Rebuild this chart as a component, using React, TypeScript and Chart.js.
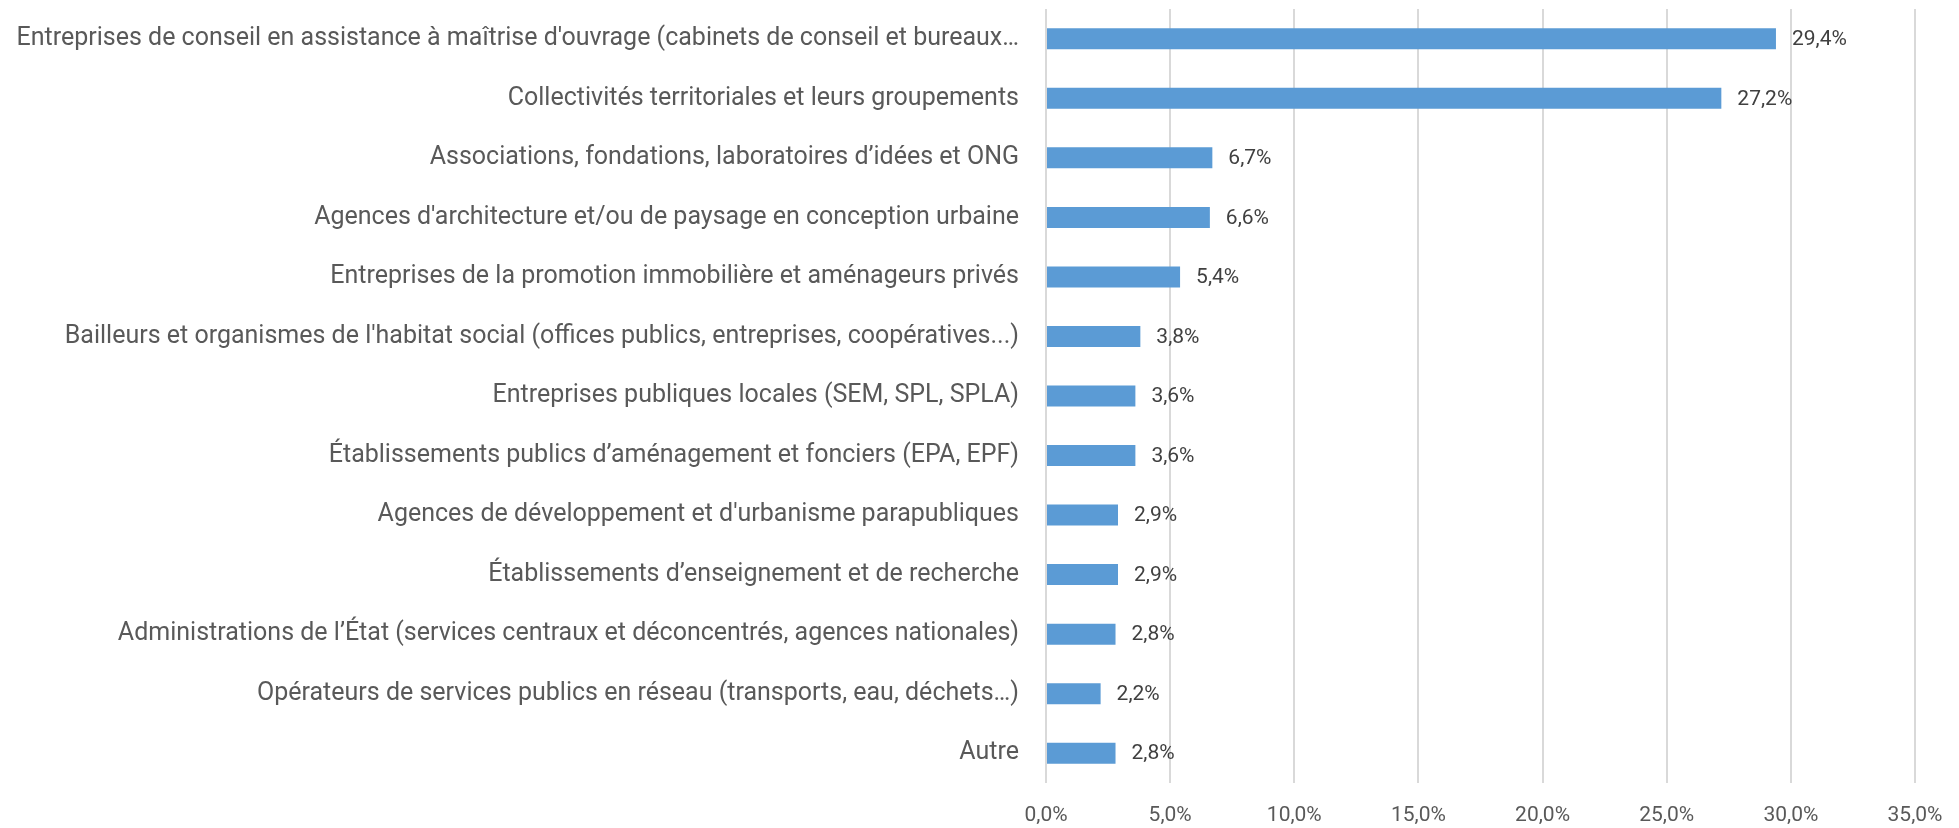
import React, { useEffect, useRef } from "react";
import { Chart, registerables } from "chart.js";

Chart.register(...registerables);

const categories: string[] = [
  "Entreprises de conseil en assistance à maîtrise d'ouvrage (cabinets de conseil et bureaux…",
  "Collectivités territoriales et leurs groupements",
  "Associations, fondations, laboratoires d’idées et ONG",
  "Agences d'architecture et/ou de paysage en conception urbaine",
  "Entreprises de la promotion immobilière et aménageurs privés",
  "Bailleurs et organismes de l'habitat social (offices publics, entreprises, coopératives...)",
  "Entreprises publiques locales (SEM, SPL, SPLA)",
  "Établissements publics d’aménagement et fonciers (EPA, EPF)",
  "Agences de développement et d'urbanisme parapubliques",
  "Établissements d’enseignement et de recherche",
  "Administrations de l’État (services centraux et déconcentrés, agences nationales)",
  "Opérateurs de services publics en réseau (transports, eau, déchets…)",
  "Autre",
];

const values: number[] = [29.4, 27.2, 6.7, 6.6, 5.4, 3.8, 3.6, 3.6, 2.9, 2.9, 2.8, 2.2, 2.8];

const xTickMin = 0;
const xTickMax = 35;
const xTickStep = 5;

const fmt = (v: number) => v.toFixed(1).replace(".", ",") + "%";

const valueLabels = {
  id: "valueLabels",
  afterDatasetsDraw(chart: any) {
    const ctx = chart.ctx;
    const meta = chart.getDatasetMeta(0);
    ctx.save();
    ctx.font = "21px Roboto";
    ctx.fillStyle = "#404040";
    ctx.textAlign = "left";
    ctx.textBaseline = "middle";
    meta.data.forEach((bar: any, i: number) => {
      ctx.fillText(fmt(values[i]), bar.x + 16, bar.y + 1);
    });
    ctx.restore();
  },
};

export default function App() {
  const ref = useRef<HTMLCanvasElement | null>(null);
  useEffect(() => {
    if (!ref.current) return;
    const chart = new Chart(ref.current, {
      type: "bar",
      data: {
        labels: categories,
        datasets: [
          {
            data: values,
            backgroundColor: "#5b9bd5",
            borderWidth: 0,
            barPercentage: 0.353,
            categoryPercentage: 1,
          },
        ],
      },
      options: {
        indexAxis: "y",
        animation: false,
        responsive: false,
        maintainAspectRatio: false,
        layout: { padding: { top: 9, right: 44, bottom: 0, left: 0 } },
        plugins: {
          legend: { display: false },
          tooltip: { enabled: false },
        },
        scales: {
          x: {
            min: xTickMin,
            max: xTickMax,
            ticks: {
              stepSize: xTickStep,
              padding: 20,
              color: "#595959",
              font: { family: "Roboto", size: 21 },
              callback: (v: any) => fmt(Number(v)),
            },
            grid: { color: "#d9d9d9", lineWidth: 2, drawTicks: false },
            border: { display: false },
            afterFit: (s: any) => {
              s.height = 45;
              s.paddingLeft = 0;
              s.paddingRight = 0;
            },
          },
          y: {
            ticks: {
              padding: 27,
              color: "#595959",
              font: { family: "Roboto", size: 25 },
              autoSkip: false,
            },
            grid: { display: false, drawTicks: false },
            border: { display: false },
            afterFit: (s: any) => {
              s.width = 1046;
              s.paddingTop = 0;
              s.paddingBottom = 0;
            },
          },
        },
      },
      plugins: [valueLabels],
    });
    return () => chart.destroy();
  }, []);
  return (
    <div style={{ position: "fixed", left: 0, top: 0, width: 1959, height: 828, background: "#fff" }}>
      <canvas ref={ref} width={1959} height={828} style={{ display: "block" }} />
    </div>
  );
}
